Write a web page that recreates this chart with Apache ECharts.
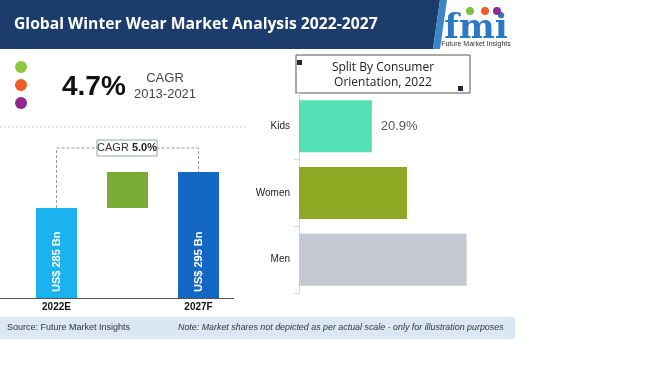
<!DOCTYPE html>
<html><head><meta charset="utf-8">
<script src="https://cdn.jsdelivr.net/npm/echarts@6/dist/echarts.min.js"></script>
<style>html,body{margin:0;padding:0;background:#fff}#c{width:650px;height:365px}</style>
</head><body><div id="c"></div>
<script>
const titleText = 'Global Winter Wear Market Analysis 2022-2027';
const marketYears = ['2022E', '', '2027F'];
const marketBase = [0, 285, 0];
const marketValues = [285, 10, 295];
const marketLabels = ['US$ 285 Bn', '', 'US$ 295 Bn'];
const marketColors = ['#1cb1ef', '#7aab35', '#1467c4'];
const segments = ['Kids', 'Women', 'Men'];
const segmentShares = [20.9, 31.0, 48.1];
const segmentColors = ['#55dfb4', '#8ea824', '#c3c8d3'];
const cagrHist = '4.7%';
const cagrHistPeriod = '2013-2021';
const cagrForecast = '5.0%';
const sourceText = 'Source: Future Market Insights';
const noteText = 'Note: Market shares not depicted as per actual scale - only for illustration purposes';

const FONT = 'Liberation Sans';
const chart = echarts.init(document.getElementById('c'), null, {renderer: 'canvas'});

const option = {
  animation: false,
  backgroundColor: '#fff',
  textStyle: {fontFamily: FONT},
  grid: [
    {left: 21, width: 213, top: 154, height: 144},
    {left: 299, top: 93, width: 209, height: 200}
  ],
  xAxis: [
    {type: 'category', gridIndex: 0, data: marketYears,
     axisLine: {show: false}, axisTick: {show: false},
     axisLabel: {color: '#111', fontWeight: 'bold', fontSize: 10, margin: 4}},
    {type: 'value', gridIndex: 1, min: 0, max: 60, show: false}
  ],
  yAxis: [
    {type: 'value', gridIndex: 0, min: 260, max: 300, show: false},
    {type: 'category', gridIndex: 1, data: segments, inverse: true,
     axisLine: {show: true, lineStyle: {color: '#d6d6d6'}},
     axisTick: {show: true, length: 5, lineStyle: {color: '#d6d6d6'}},
     axisLabel: {color: '#222', fontSize: 10, margin: 9}}
  ],
  series: [
    {type: 'bar', xAxisIndex: 0, yAxisIndex: 0, stack: 'w', barWidth: 41, silent: true,
     itemStyle: {color: 'rgba(0,0,0,0)'}, data: marketBase},
    {type: 'bar', xAxisIndex: 0, yAxisIndex: 0, stack: 'w', barWidth: 41,
     data: marketValues.map((v, i) => ({value: v, itemStyle: {color: marketColors[i]}})),
     label: {show: true, position: 'insideBottom', rotate: 90, align: 'left', verticalAlign: 'middle',
       distance: 6, color: '#fff', fontWeight: 'bold', fontSize: 11,
       formatter: p => marketLabels[p.dataIndex]}},
    {type: 'bar', xAxisIndex: 1, yAxisIndex: 1, barCategoryGap: '22%',
     data: segmentShares.map((v, i) => ({value: v, itemStyle: {color: segmentColors[i]},
       label: {show: i === 0}})),
     label: {position: 'right', distance: 9, color: '#595959', fontSize: 13,
       formatter: p => p.value.toFixed(1) + '%'}}
  ]
};
chart.setOption(option);

const p1 = chart.convertToPixel({xAxisIndex: 0, yAxisIndex: 0}, [0, marketValues[0]]);
const p3 = chart.convertToPixel({xAxisIndex: 0, yAxisIndex: 0}, [2, marketValues[2]]);
const base = chart.convertToPixel({xAxisIndex: 0, yAxisIndex: 0}, [0, 260]);
const connY = 148;

const graphics = [
  {type: 'polygon', shape: {points: [[0,0],[440,0],[433,49],[0,49]]}, style: {fill: '#1c3d6c'}},
  {type: 'polygon', shape: {points: [[440,0],[447,0],[440,49],[433,49]]}, style: {fill: '#3a86c8'}},
  {type: 'text', x: 14, y: 25, style: {text: titleText, fill: '#fff', font: 'bold 15.7px "Open Sans"', textVerticalAlign: 'middle'}},
  // logo
  {type: 'text', x: 476, y: 29, style: {text: 'fmi', fill: '#2b78c4', font: 'bold 34px "DejaVu Serif"', textAlign: 'center', textVerticalAlign: 'middle'}},
  {type: 'circle', shape: {cx: 470, cy: 11, r: 4}, style: {fill: '#7dc142'}},
  {type: 'circle', shape: {cx: 485, cy: 11, r: 4}, style: {fill: '#f15a29'}},
  {type: 'circle', shape: {cx: 497, cy: 11, r: 4}, style: {fill: '#8e2a91'}},
  {type: 'text', x: 476, y: 44, style: {text: 'Future Market Insights', fill: '#333', font: '7px ' + FONT, textAlign: 'center', textVerticalAlign: 'middle'}},
  // dots and CAGR
  {type: 'circle', shape: {cx: 21, cy: 67, r: 6}, style: {fill: '#8dc63f'}},
  {type: 'circle', shape: {cx: 21, cy: 85, r: 6}, style: {fill: '#f15a29'}},
  {type: 'circle', shape: {cx: 21, cy: 103, r: 6}, style: {fill: '#93278f'}},
  {type: 'text', x: 62, y: 87, style: {text: cagrHist, fill: '#111', font: 'bold 28px ' + FONT, textVerticalAlign: 'middle'}},
  {type: 'text', x: 165, y: 78, style: {text: 'CAGR', fill: '#444', font: '13px ' + FONT, textAlign: 'center', textVerticalAlign: 'middle'}},
  {type: 'text', x: 165, y: 94, style: {text: cagrHistPeriod, fill: '#444', font: '13px ' + FONT, textAlign: 'center', textVerticalAlign: 'middle'}},
  {type: 'line', shape: {x1: 0, y1: 127, x2: 248, y2: 127}, style: {stroke: '#cfcfcf', lineWidth: 1, lineDash: [2, 2]}},
  // baseline
  {type: 'line', shape: {x1: 0, y1: base[1] + 0.5, x2: 234, y2: base[1] + 0.5}, style: {stroke: '#555', lineWidth: 1}},
  // connector
  {type: 'polyline', shape: {points: [[p1[0], p1[1]], [p1[0], connY], [p3[0], connY], [p3[0], p3[1]]]},
   style: {stroke: '#9a9a9a', lineWidth: 1, lineDash: [3, 2], fill: null}},
  {type: 'rect', shape: {x: 97, y: 140, width: 60, height: 16}, style: {fill: '#fff', stroke: '#8ea3ba', lineWidth: 1}},
  {type: 'text', x: 127, y: 148, style: {text: '{a|CAGR }{b|' + cagrForecast + '}', textAlign: 'center', textVerticalAlign: 'middle',
    rich: {a: {fill: '#333', fontSize: 11, fontFamily: FONT}, b: {fill: '#222', fontSize: 11, fontWeight: 'bold', fontFamily: FONT}}}},
  // right title box
  {type: 'rect', shape: {x: 296, y: 55, width: 174, height: 38}, style: {fill: '#fff', stroke: '#555', lineWidth: 1}},
  {type: 'rect', shape: {x: 297, y: 60, width: 5, height: 5}, style: {fill: '#1c2b3c'}},
  {type: 'rect', shape: {x: 458, y: 86, width: 5, height: 5}, style: {fill: '#1c2b3c'}},
  {type: 'text', x: 383, y: 68, style: {text: 'Split By Consumer', fill: '#222', font: '12px "Open Sans"', textAlign: 'center', textVerticalAlign: 'middle'}},
  {type: 'text', x: 383, y: 83, style: {text: 'Orientation, 2022', fill: '#222', font: '12px "Open Sans"', textAlign: 'center', textVerticalAlign: 'middle'}},
  // footer
  {type: 'rect', shape: {x: 0, y: 317, width: 515, height: 22}, style: {fill: '#dbe7f4'}},
  {type: 'text', x: 7, y: 328, style: {text: sourceText, fill: '#333', font: '9px ' + FONT, textVerticalAlign: 'middle'}},
  {type: 'text', x: 178, y: 328, style: {text: noteText, fill: '#333', font: 'italic 8.9px ' + FONT, textVerticalAlign: 'middle'}}
];
chart.setOption({graphic: graphics});
</script></body></html>
